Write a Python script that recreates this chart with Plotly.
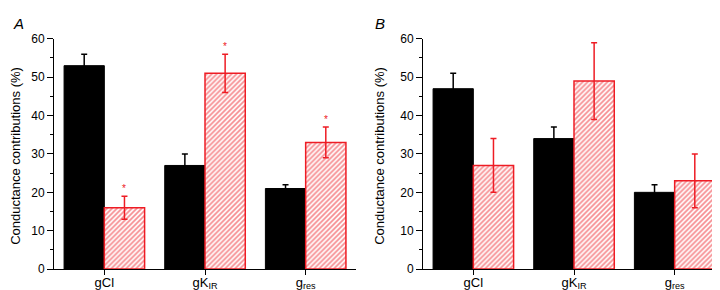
import plotly.graph_objects as go

categories = ["gCl", "gK<sub>IR</sub>", "g<sub>res</sub>"]

# Panel A
a_ctrl = [53, 27, 21]
a_ctrl_err = [3, 3, 1]
a_treat = [16, 51, 33]
a_treat_err = [3, 5, 4]
a_sig = [True, True, True]

# Panel B
b_ctrl = [47, 34, 20]
b_ctrl_err = [4, 3, 2]
b_treat = [27, 49, 23]
b_treat_err = [7, 10, 7]
b_sig = [False, False, False]

y_ticks = [0, 10, 20, 30, 40, 50, 60]

RED = "#ee1c24"
FONT = "Liberation Sans, Arial, sans-serif"

fig = go.Figure()


def add_panel(ctrl, ctrl_err, treat, treat_err, xa, ya):
    fig.add_trace(go.Bar(
        x=categories, y=ctrl, xaxis=xa, yaxis=ya,
        marker=dict(color="black", line=dict(color="black", width=1)),
        error_y=dict(type="data", array=ctrl_err, color="black", thickness=1.5, width=3),
        showlegend=False,
    ))
    fig.add_trace(go.Bar(
        x=categories, y=treat, xaxis=xa, yaxis=ya,
        marker=dict(color="white", line=dict(color=RED, width=1.5),
                    pattern=dict(shape="/", fgcolor=RED, bgcolor="white", size=3.5, solidity=0.5)),
        error_y=dict(type="data", array=treat_err, color=RED, thickness=1.5, width=3),
        showlegend=False,
    ))


add_panel(a_ctrl, a_ctrl_err, a_treat, a_treat_err, "x", "y")
add_panel(b_ctrl, b_ctrl_err, b_treat, b_treat_err, "x2", "y2")

annotations = []
for sig, vals, errs, xr, yr in [(a_sig, a_treat, a_treat_err, "x", "y"),
                                (b_sig, b_treat, b_treat_err, "x2", "y2")]:
    for i, (s, v, e) in enumerate(zip(sig, vals, errs)):
        if s:
            annotations.append(dict(x=i + 0.2, y=v + e + 2, xref=xr, yref=yr, text="*",
                                    showarrow=False, font=dict(color=RED, size=10, family=FONT)))

for xpos, label in [(10, "A"), (372, "B")]:
    annotations.append(dict(x=xpos / 720, y=1 - 9 / 290, xref="paper", yref="paper", text="<i>" + label + "</i>",
                            showarrow=False, font=dict(size=15, family=FONT, color="black"),
                            xanchor="center", yanchor="middle"))

for xpos in [8, 372]:
    annotations.append(dict(x=xpos / 720, y=(290 - 148) / 290, xref="paper", yref="paper",
                            text="Conductance contributions (%)", textangle=-90, showarrow=False,
                            font=dict(size=13, family=FONT, color="black"),
                            xanchor="center", yanchor="middle"))

xaxis_common = dict(type="category", range=[-0.5, 2.5], showline=True, linecolor="black", linewidth=1,
                    ticks="outside", ticklen=5, tickcolor="black", tickfont=dict(size=13, family=FONT, color="black"),
                    ticklabelstandoff=-4,
                    showgrid=False, zeroline=False, fixedrange=True)
yaxis_common = dict(range=[0, 60], tickvals=y_ticks, showline=True, linecolor="black", linewidth=1,
                    ticks="outside", ticklen=6, tickcolor="black", tickfont=dict(size=12, family=FONT, color="black"),
                    showgrid=False, zeroline=False,
                    minor=dict(dtick=5, ticks="outside", ticklen=3, tickcolor="black", showgrid=False))

y_dom = [23 / 290, 265 / 290]
fig.update_layout(
    width=720, height=290,
    margin=dict(l=0, r=0, t=0, b=0),
    paper_bgcolor="white", plot_bgcolor="white",
    barmode="group", bargap=0.2, bargroupgap=0,
    xaxis=dict(domain=[46 / 720, 348 / 720], anchor="y", **xaxis_common),
    yaxis=dict(domain=y_dom, anchor="x", **yaxis_common),
    xaxis2=dict(domain=[415 / 720, 717 / 720], anchor="y2", **xaxis_common),
    yaxis2=dict(domain=y_dom, anchor="x2", **yaxis_common),
    annotations=annotations,
    font=dict(family=FONT),
)

fig.write_html("out.html")
